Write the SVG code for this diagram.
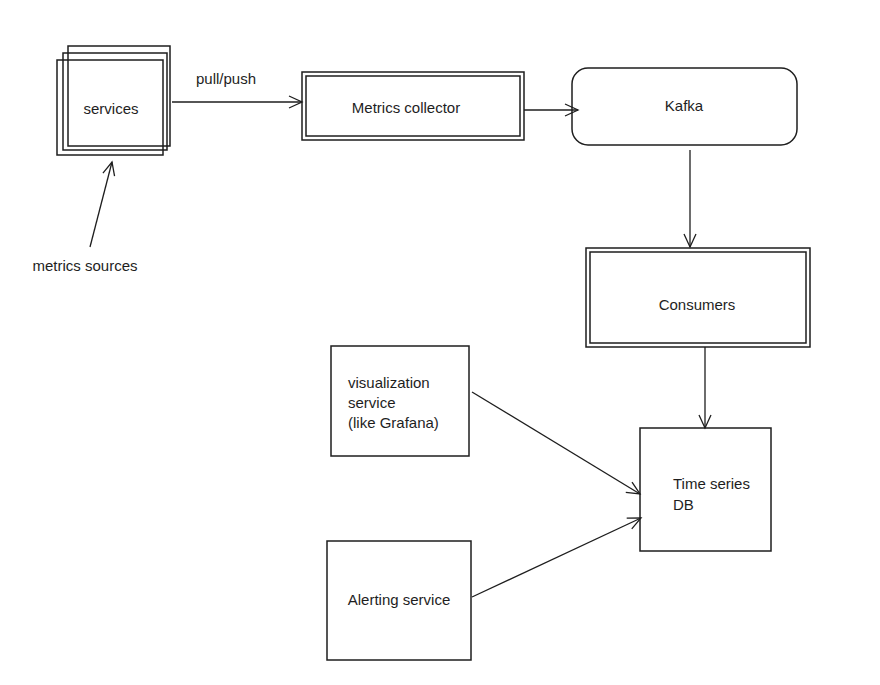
<svg xmlns="http://www.w3.org/2000/svg" width="880" height="685" viewBox="0 0 880 685">
<style>
.b{fill:none;stroke:#1e1e1e;stroke-width:1.5}
.c{fill:none;stroke:#1e1e1e;stroke-width:1.3}
text{font-family:"Liberation Sans",Arial,sans-serif;font-size:15px;fill:#1e1e1e}
</style>
<defs><marker id="a" markerWidth="16" markerHeight="14" refX="14" refY="7" orient="auto" markerUnits="userSpaceOnUse"><path d="M1,1 L14,7 L1,13" fill="none" stroke="#1e1e1e" stroke-width="1.3"/></marker></defs>
<rect width="880" height="685" fill="#fff"/>
<g id="services"><rect class="b" x="57" y="60" width="106" height="95"/><rect class="b" x="63" y="53" width="104" height="97"/><rect class="b" x="68" y="46" width="102" height="100"/><text x="111" y="114" text-anchor="middle">services</text></g>
<g id="collector"><rect class="b" x="302" y="72" width="222" height="68"/><rect class="b" x="306" y="76" width="214" height="60"/><text x="406" y="113" text-anchor="middle">Metrics collector</text></g>
<g id="kafka"><rect class="b" x="572" y="68" width="225" height="77" rx="16"/><text x="684" y="111" text-anchor="middle">Kafka</text></g>
<g id="consumers"><rect class="b" x="586" y="248" width="224" height="99"/><rect class="b" x="590" y="252" width="216" height="91"/><text x="697" y="310" text-anchor="middle">Consumers</text></g>
<g id="tsdb"><rect class="b" x="640" y="428" width="131" height="123"/><text x="673" y="489">Time series</text><text x="673" y="510">DB</text></g>
<g id="viz"><rect class="b" x="331" y="346" width="138" height="110"/><text x="348" y="388">visualization</text><text x="348" y="408">service</text><text x="348" y="428">(like Grafana)</text></g>
<g id="alerting"><rect class="b" x="327" y="541" width="144" height="119"/><text x="399" y="605" text-anchor="middle">Alerting service</text></g>
<g id="sources"><text x="85" y="271" text-anchor="middle">metrics sources</text></g>
<g id="connectors">
<line class="c" x1="172" y1="102" x2="302" y2="102" marker-end="url(#a)"/>
<text x="226" y="84" text-anchor="middle">pull/push</text>
<line class="c" x1="524" y1="110" x2="578" y2="110" marker-end="url(#a)"/>
<line class="c" x1="690" y1="150" x2="690" y2="247" marker-end="url(#a)"/>
<line class="c" x1="705" y1="347" x2="705" y2="428" marker-end="url(#a)"/>
<line class="c" x1="472" y1="392" x2="640" y2="494" marker-end="url(#a)"/>
<line class="c" x1="472" y1="597" x2="641" y2="518" marker-end="url(#a)"/>
<line class="c" x1="90" y1="247" x2="112" y2="162" marker-end="url(#a)"/>
</g>
</svg>
